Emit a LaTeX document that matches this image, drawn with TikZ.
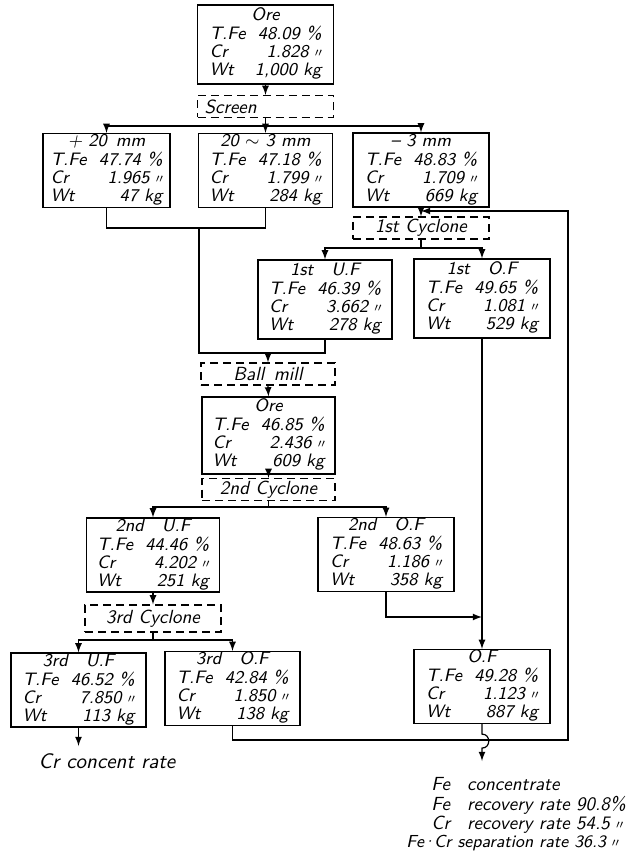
\documentclass[tikz,border=0pt]{standalone}
\usepackage{fontspec}
\newfontfamily\cjk{Noto Sans CJK SC}
\newcommand{\ditto}{{\cjk\fontsize{6}{6}\selectfont\kern-1.2pt 〃\kern-1.5pt}}
% one assay box: title, T.Fe, Cr, Wt
\newcommand{\assay}[4]{%
  \begin{tabular*}{56pt}{@{}l@{\extracolsep{\fill}}r@{}}
    \multicolumn{2}{@{}c@{}}{#1}\\
    T.Fe & #2\\
    Cr & #3\\
    Wt & #4
  \end{tabular*}}
\tikzset{
  flowbox/.style={draw, line width=0.6pt, minimum width=68pt, minimum height=37pt,
    inner sep=0pt, font=\sffamily\itshape\fontsize{9}{9}\selectfont},
  opbox/.style={draw, line width=0.6pt, dash pattern=on 4pt off 2.5pt,
    minimum width=68pt, minimum height=11pt, inner sep=0pt,
    font=\sffamily\itshape\fontsize{9.5}{9.5}\selectfont},
  note/.style={font=\sffamily\itshape\fontsize{9.5}{9.2}\selectfont, inner sep=0pt},
  flow/.style={line width=0.6pt}
}
\begin{document}
\begin{tikzpicture}[>=latex, x=0.5pt, y=-0.5pt]
    \useasboundingbox (0,0) rectangle (629,855);

    % Feed and screening
    \node[flowbox, minimum height=39.5pt] (ore) at (265.5,44.5)
        {\assay{Ore}{48.09 \%}{1.828 \ditto}{1,000 kg}};
    \node[opbox, text width=61pt, align=left] (screen) at (265.5,106.5) {Screen};
    \node[flowbox, minimum width=63.5pt] (p20) at (106.5,170.5)
        {\assay{+ 20\enspace mm}{47.74 \%}{1.965 \ditto}{47 kg}};
    \node[flowbox, minimum width=67pt] (p203) at (265.5,170.5)
        {\assay{20 $\sim$ 3 mm}{47.18 \%}{1.799 \ditto}{284 kg}};
    \node[flowbox] (m3) at (421,170)
        {\assay{-- 3 mm}{48.83 \%}{1.709 \ditto}{669 kg}};

    % First cyclone
    \node[opbox] (cyc1) at (421,228) {1st Cyclone};
    \node[flowbox, minimum width=67pt, minimum height=39.5pt] (uf1) at (325,299.5)
        {\assay{1st\quad U.F}{46.39 \%}{3.662 \ditto}{278 kg}};
    \node[flowbox, minimum height=39.5pt] (of1) at (482,298.5)
        {\assay{1st\quad O.F}{49.65 \%}{1.081 \ditto}{529 kg}};

    % Grinding and second cyclone
    \node[opbox, minimum width=67pt] (mill) at (268,374) {Ball\enspace mill};
    \node[flowbox, minimum width=66.5pt, minimum height=38.5pt] (ore2) at (268.5,435.5)
        {\assay{Ore}{46.85 \%}{2.436 \ditto}{609 kg}};
    \node[opbox, minimum width=66.5pt] (cyc2) at (268.5,489.5) {2nd Cyclone};
    \node[flowbox, minimum width=66.5pt] (uf2) at (153,555)
        {\assay{2nd\quad U.F}{44.46 \%}{4.202 \ditto}{251 kg}};
    \node[flowbox] (of2) at (386,554.5)
        {\assay{2nd\quad O.F}{48.63 \%}{1.186 \ditto}{358 kg}};

    % Third cyclone and products
    \node[opbox, minimum height=13.5pt] (cyc3) at (153,618.5) {3rd Cyclone};
    \node[flowbox, minimum width=67.5pt] (uf3) at (78.5,690)
        {\assay{3rd\quad U.F}{46.52 \%}{7.850 \ditto}{113 kg}};
    \node[flowbox, minimum width=67.5pt] (of3) at (232.5,688.5)
        {\assay{3rd\quad O.F}{42.84 \%}{1.850 \ditto}{138 kg}};
    \node[flowbox] (of) at (482,686.5)
        {\assay{O.F}{49.28 \%}{1.123 \ditto}{887 kg}};

    \node[note, font=\sffamily\itshape\fontsize{10.5}{10.5}\selectfont] (crc) at (107,761) {Cr concent rate};
    \node[note, anchor=north west] (fecon) at (431,777)
        {\begin{tabular}{@{}l@{\hspace{0.9em}}l@{}}
          Fe & concentrate\\
          Fe & recovery rate 90.8\%\\
          Cr & recovery rate 54.5 \ditto
        \end{tabular}};
    \node[note, font=\sffamily\itshape\fontsize{8.7}{9}\selectfont, anchor=base west] (sep) at (406,847)
        {Fe\kern-1pt·\kern-1pt Cr separation rate 36.3 \ditto};

    % Junction points
    \coordinate (s1) at (265.5,126);
    \coordinate (j1) at (199,228);
    \coordinate (j2) at (199,353);
    \coordinate (rcin) at (421,211);
    \coordinate (rtop) at (568,211);
    \coordinate (rbot) at (568,740);
    \coordinate (c1) at (421,248);
    \coordinate (c2) at (268.5,507);
    \coordinate (c3) at (153,640);
    \coordinate (j3) at (482,617);
    \coordinate (crin) at (78.5,746);
    \coordinate (feout) at (482,761);

    % Screening
    \draw[flow, ->] (ore.south) -- (screen.north);
    \draw[flow] (screen.south) -- (s1);
    \draw[flow, ->] (s1) -| (p20.north);
    \draw[flow, ->] (s1) -- (p203.north);
    \draw[flow, ->] (s1) -| (m3.north);

    % Coarse fractions to the mill
    \draw[flow] (p20.south) |- (j1) -| (p203.south);
    \draw[flow] (j1) -- (j2) -| (uf1.south);
    \draw[flow, ->] (mill.north |- j2) -- (mill.north);

    % First cyclone
    \draw[flow, ->] (m3.south) -- (cyc1.north);
    \draw[flow] (cyc1.south) -- (c1);
    \draw[flow, ->] (c1) -| (uf1.north);
    \draw[flow, ->] (c1) -| (of1.north);
    \draw[flow, ->] (of1.south) -- (of.north);

    % Second cyclone
    \draw[flow, ->] (mill.south) -- (ore2.north);
    \draw[flow, ->] (ore2.south) -- (cyc2.north);
    \draw[flow] (cyc2.south) -- (c2);
    \draw[flow, ->] (c2) -| (uf2.north);
    \draw[flow, ->] (c2) -| (of2.north);
    \draw[flow, ->] (of2.south) |- (j3);

    % Third cyclone
    \draw[flow, ->] (uf2.south) -- (cyc3.north);
    \draw[flow] (cyc3.south) -- (c3);
    \draw[flow, ->] (c3) -| (uf3.north);
    \draw[flow, ->] (c3) -| (of3.north);
    \draw[flow, ->] (uf3.south) -- (crin);

    % Return of 3rd O.F to the first cyclone
    \draw[flow, ->] (of3.south) |- (rbot) -- (rtop) -- (rcin);

    % Fe concentrate, hopping over the return line
    \draw[flow, ->] (of.south) -- ++(0,10) .. controls +(9,0) and +(9,0) .. ++(0,14) -- (feout);
\end{tikzpicture}
\end{document}
